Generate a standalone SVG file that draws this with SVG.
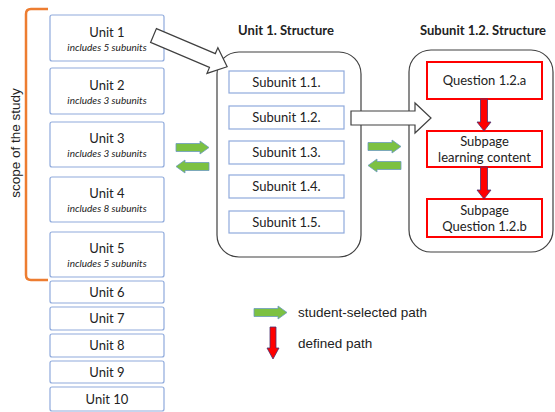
<svg xmlns="http://www.w3.org/2000/svg" width="555" height="412" viewBox="0 0 555 412">
<style>
.unit{fill:#fff;stroke:#8faadc;stroke-width:1.2}
.cont{fill:#fff;stroke:#404040;stroke-width:1.2}
.red{fill:#fff;stroke:#ff0000;stroke-width:2}
.t{font-family:Lato,"Liberation Sans",sans-serif;font-size:13px;fill:#222;text-anchor:middle}
.s{font-family:Lato,"Liberation Sans",sans-serif;font-size:10px;font-style:italic;fill:#222;text-anchor:middle}
.b{font-family:Lato,"Liberation Sans",sans-serif;font-size:13px;font-weight:bold;fill:#222;text-anchor:middle}
.l{font-family:"Liberation Sans",Arial,sans-serif;font-size:13.5px;fill:#222}
.g{fill:#7cc142;stroke:#6b9bc0;stroke-width:0.8}
.r{fill:#ff0000;stroke:#4a3070;stroke-width:0.8}
.w{fill:#fff;stroke:#404040;stroke-width:1.2}
</style>
<defs>
<path id="gr" d="M0,2.5 H24 V-0 L33,6.5 L24,13 V10.5 H0 Z"/>
<path id="gl" d="M33,2.5 H9 V0 L0,6.5 L9,13 V10.5 H33 Z"/>
</defs>

<g id="scope">
<path d="M48,9 H31 Q26,9 26,14 V275 Q26,280 31,280 H48" fill="none" stroke="#ed7d31" stroke-width="2.5"/>
<text class="l" transform="translate(20,143) rotate(-90)" text-anchor="middle">scope of the study</text>
</g>

<g id="unit1"><rect class="unit" x="50" y="15" width="114" height="46" rx="2"/><text class="t" x="107" y="37">Unit 1</text><text class="s" x="107" y="51">includes 5 subunits</text></g>
<g id="unit2"><rect class="unit" x="50" y="68" width="114" height="46" rx="2"/><text class="t" x="107" y="90">Unit 2</text><text class="s" x="107" y="104">includes 3 subunits</text></g>
<g id="unit3"><rect class="unit" x="50" y="122" width="114" height="45" rx="2"/><text class="t" x="107" y="143">Unit 3</text><text class="s" x="107" y="157">includes 3 subunits</text></g>
<g id="unit4"><rect class="unit" x="50" y="177" width="114" height="45" rx="2"/><text class="t" x="107" y="198">Unit 4</text><text class="s" x="107" y="212">includes 8 subunits</text></g>
<g id="unit5"><rect class="unit" x="50" y="232" width="114" height="45" rx="2"/><text class="t" x="107" y="253">Unit 5</text><text class="s" x="107" y="267">includes 5 subunits</text></g>
<g id="unit6"><rect class="unit" x="50" y="281" width="114" height="22" rx="2"/><text class="t" x="107" y="297">Unit 6</text></g>
<g id="unit7"><rect class="unit" x="50" y="307" width="114" height="23" rx="2"/><text class="t" x="107" y="323">Unit 7</text></g>
<g id="unit8"><rect class="unit" x="50" y="334" width="114" height="23" rx="2"/><text class="t" x="107" y="350">Unit 8</text></g>
<g id="unit9"><rect class="unit" x="50" y="361" width="114" height="22" rx="2"/><text class="t" x="107" y="377">Unit 9</text></g>
<g id="unit10"><rect class="unit" x="50" y="387" width="114" height="24" rx="2"/><text class="t" x="107" y="404">Unit 10</text></g>

<g id="unit1-structure">
<text class="b" x="286" y="35">Unit 1. Structure</text>
<rect class="cont" x="217" y="52" width="144" height="205" rx="22"/>
<g id="sub11"><rect class="unit" x="229" y="71" width="115" height="22"/><text class="t" x="286.5" y="87">Subunit 1.1.</text></g>
<g id="sub12"><rect class="unit" x="229" y="106" width="115" height="23"/><text class="t" x="286.5" y="122">Subunit 1.2.</text></g>
<g id="sub13"><rect class="unit" x="229" y="141" width="115" height="23"/><text class="t" x="286.5" y="157">Subunit 1.3.</text></g>
<g id="sub14"><rect class="unit" x="229" y="175" width="115" height="23"/><text class="t" x="286.5" y="191">Subunit 1.4.</text></g>
<g id="sub15"><rect class="unit" x="229" y="211" width="115" height="22"/><text class="t" x="286.5" y="227">Subunit 1.5.</text></g>
</g>

<g id="subunit12-structure">
<text class="b" x="483" y="35">Subunit 1.2. Structure</text>
<rect class="cont" x="409" y="50" width="144" height="202" rx="22"/>
<g id="q12a"><rect class="red" x="427" y="62" width="115" height="37"/><text class="t" x="484.5" y="85">Question 1.2.a</text></g>
<g id="learning"><rect class="red" x="427" y="131" width="115" height="36"/><text class="t" x="484.5" y="146">Subpage</text><text class="t" x="484.5" y="162">learning content</text></g>
<g id="q12b"><rect class="red" x="427" y="199" width="115" height="38"/><text class="t" x="484.5" y="215">Subpage</text><text class="t" x="484.5" y="231">Question 1.2.b</text></g>
</g>

<g id="connectors">
<path class="w" transform="translate(153.5,35.5) rotate(23)" d="M0,-7.5 H64 V-14 L80,0 L64,14 V7.5 H0 Z"/>
<path class="w" d="M351,111 H415 V103 L431,118 L415,133 V125 H351 Z"/>
<use href="#gr" x="176" y="141" class="g"/>
<use href="#gl" x="176" y="160" class="g"/>
<use href="#gr" x="368" y="140" class="g"/>
<use href="#gl" x="368" y="159" class="g"/>
<path class="r" d="M480.5,99 H487.5 V122 H491 L484,131 L477,122 H480.5 Z"/>
<path class="r" d="M480.5,167 H487.5 V190 H491 L484,199 L477,190 H480.5 Z"/>
</g>

<g id="legend">
<use href="#gr" x="254" y="306" class="g"/>
<text class="l" x="298" y="317">student-selected path</text>
<path class="r" d="M270,327 H276 V348 H279 L273,359 L267,348 H270 Z"/>
<text class="l" x="298" y="348">defined path</text>
</g>
</svg>
